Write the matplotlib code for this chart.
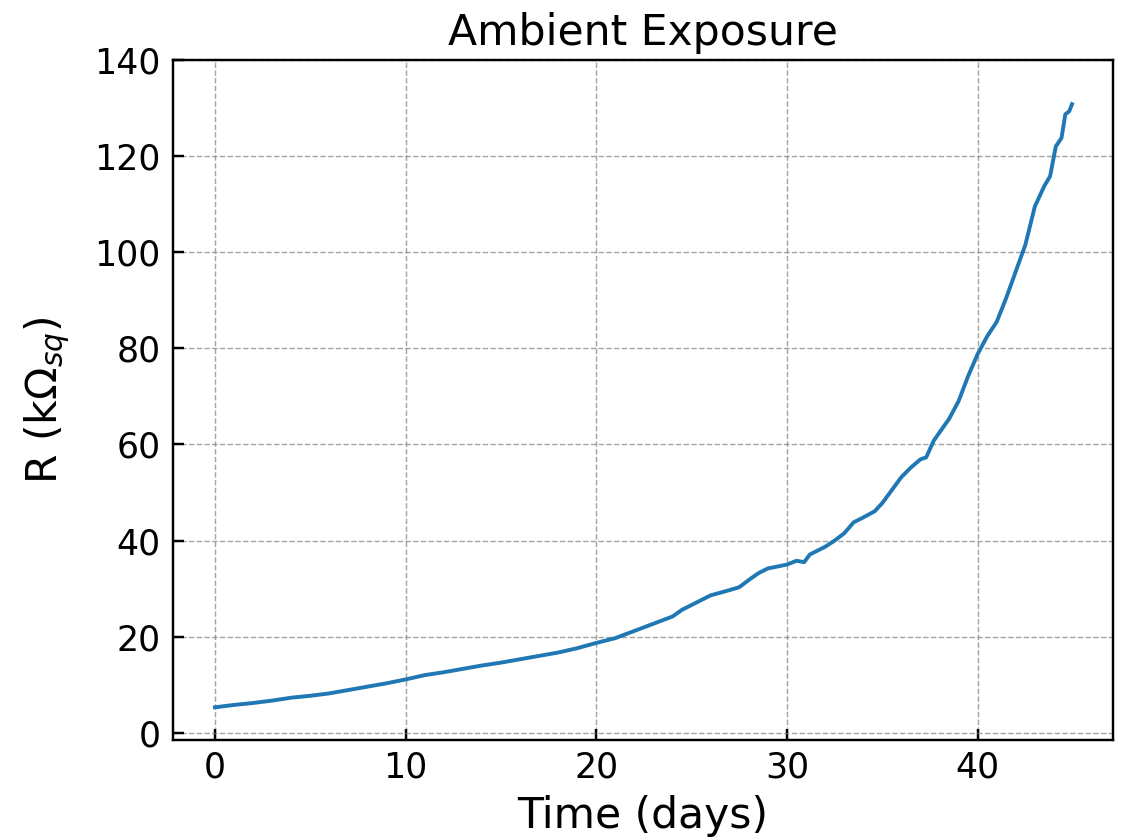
import matplotlib
matplotlib.use("Agg")
import matplotlib.pyplot as plt

days = [0, 1, 2, 3, 4, 5, 6, 7, 8, 9, 10, 11, 12, 13, 14, 15, 16, 17, 18, 19,
        20, 21, 22, 23, 24, 24.5, 25, 26, 27, 27.5, 28, 28.5, 29, 30, 30.5,
        30.9, 31.2, 32, 32.5, 33, 33.5, 34, 34.6, 35, 35.5, 36, 36.5, 37, 37.3,
        37.7, 38, 38.5, 39, 39.5, 40, 40.5, 41, 41.5, 42, 42.5, 43, 43.5, 43.8,
        44.1, 44.4, 44.6, 44.8, 44.95]
resistance = [5.3, 5.8, 6.2, 6.7, 7.3, 7.7, 8.2, 8.9, 9.6, 10.3, 11.1, 12.0,
              12.6, 13.3, 14.0, 14.6, 15.3, 16.0, 16.7, 17.6, 18.7, 19.7, 21.2,
              22.7, 24.2, 25.6, 26.6, 28.6, 29.7, 30.3, 31.8, 33.2, 34.2, 35.0,
              35.8, 35.5, 37.1, 38.7, 40.0, 41.5, 43.8, 44.8, 46.1, 47.8, 50.5,
              53.2, 55.2, 56.9, 57.3, 60.8, 62.5, 65.3, 69.0, 74.2, 78.8, 82.5,
              85.5, 90.5, 96.0, 101.5, 109.5, 113.8, 115.8, 122.0, 123.8, 128.7,
              129.3, 130.8]

fig = plt.figure(figsize=(1123 / 175, 839 / 175), dpi=175)
ax = fig.add_axes([173 / 1123, 0.118, (1113 - 173) / 1123, 0.9285 - 0.118])
ax.plot(days, resistance, color="#1f77b4", lw=1.6)
ax.set_xlim(-2.2, 47.1)
ax.set_ylim(-1.5, 140)
ax.set_xticks([0, 10, 20, 30, 40])
ax.set_yticks([0, 20, 40, 60, 80, 100, 120, 140])
ax.grid(True, color="gray", linestyle="--", lw=0.6, alpha=0.7)
ax.tick_params(direction="in", length=4.5, width=1.0, labelsize=14.3)
ax.tick_params(axis="y", pad=5.2)
ax.tick_params(axis="x", pad=4.5)
for s in ax.spines.values():
    s.set_linewidth(1.0)
ax.set_title("Ambient Exposure", fontsize=17.5)
ax.set_xlabel("Time (days)", fontsize=17.5)
ax.set_ylabel(r"R (k$\Omega_{sq}$)", fontsize=17.5, labelpad=9)
fig.savefig("out.png", dpi=175)
